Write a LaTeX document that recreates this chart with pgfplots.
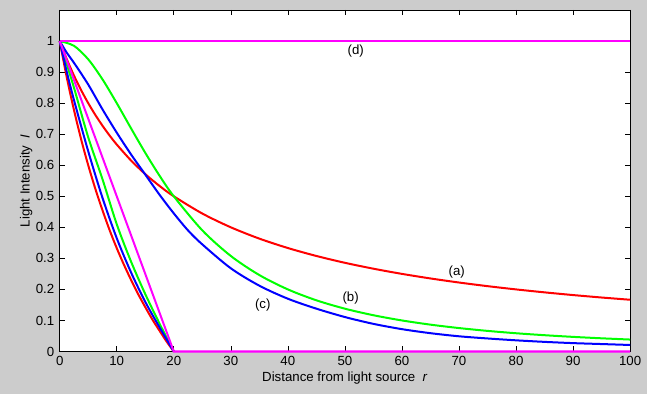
\documentclass[border=0pt]{standalone}
\usepackage{fontspec}
\setmainfont{Liberation Sans}
\usepackage{pgfplots}
\pgfplotsset{compat=1.18}
\definecolor{figgray}{RGB}{204,204,204}
\definecolor{mred}{RGB}{255,0,0}
\definecolor{mgreen}{RGB}{0,255,0}
\definecolor{mblue}{RGB}{0,0,255}
\definecolor{mmag}{RGB}{255,0,255}
\begin{document}
\begin{tikzpicture}[font=\fontsize{13.3}{16}\selectfont]
\fill[figgray] (0bp,0bp) rectangle (647bp,394bp);
\begin{axis}[
  at={(59.7bp,42.5bp)}, anchor=south west,
  scale only axis, width=570.4bp, height=341.5bp,
  xmin=0, xmax=100, ymin=0, ymax=1.1,
  axis background/.style={fill=white},
  axis line style={black, line width=0.8bp},
  xtick={0,10,20,30,40,50,60,70,80,90,100},
  ytick={0,0.1,0.2,0.3,0.4,0.5,0.6,0.7,0.8,0.9,1},
  yticklabels={0,0.1,0.2,0.3,0.4,0.5,0.6,0.7,0.8,0.9,1},
  tick align=inside, major tick length=5bp,
  tick style={black, line width=0.6bp},
  /pgf/number format/assume math mode=true,
  tick label style={font=\fontsize{13.3}{16}\selectfont, black},
  xticklabel style={yshift=-1.5bp},
  yticklabel style={xshift=-2bp},
  clip=false,
  xlabel={Distance from light source\ \ \textit{r}},
  ylabel={Light Intensity\ \ \textit{I}},
  xlabel style={at={(axis description cs:0.5,0)}, anchor=base, yshift=-30bp},
  ylabel style={at={(axis description cs:-0.0526,0.5)}, anchor=base, rotate=0},
  label style={font=\fontsize{13.3}{16}\selectfont},
  every axis plot/.append style={line width=2bp, smooth},
]
% (a) upper red
\addplot[mred] coordinates {(0,1) (1.25,0.9412) (2.5,0.8889) (3.75,0.8421) (5,0.8) (6.25,0.7619) (7.5,0.7273) (8.75,0.6957) (10,0.6667) (12.5,0.6154) (15,0.5714) (17.5,0.5333) (20,0.5) (25,0.4444) (30,0.4) (35,0.3636) (40,0.3333) (45,0.3077) (50,0.2857) (55,0.2667) (60,0.25) (65,0.2353) (70,0.2222) (75,0.2105) (80,0.2) (85,0.1905) (90,0.1818) (95,0.1739) (100,0.1667)};
% (b) upper green
\addplot[mgreen] coordinates {(0,1) (2.5,0.9846) (5,0.9412) (7.5,0.8767) (10,0.8) (12.5,0.7191) (15,0.64) (17.5,0.5664) (20,0.5) (25,0.3902) (30,0.3077) (35,0.2462) (40,0.2) (45,0.1649) (50,0.1379) (55,0.1168) (60,0.1) (65,0.0865) (70,0.0755) (75,0.0664) (80,0.0588) (85,0.0525) (90,0.0471) (95,0.0425) (100,0.0385)};
% (c) upper blue
\addplot[mblue] coordinates {(0,1) (1.25,0.962) (2.5,0.93) (5,0.86) (7.5,0.78) (10,0.705) (12.5,0.635) (15,0.57) (17.5,0.505) (20,0.445) (22.5,0.39) (25,0.345) (30,0.268) (35,0.212) (40,0.170) (45,0.138) (50,0.111) (55,0.089) (60,0.072) (65,0.059) (70,0.049) (75,0.042) (80,0.036) (85,0.031) (90,0.027) (95,0.024) (100,0.021)};
% (d) magenta
\addplot[mmag, sharp plot] coordinates {(0,1) (100,1)};
% lower group
\addplot[mred] coordinates {(0,1) (1.25,0.882) (2.5,0.778) (3.75,0.684) (5,0.6) (6.25,0.524) (7.5,0.455) (8.75,0.391) (10,0.333) (11.25,0.28) (12.5,0.231) (13.75,0.185) (15,0.143) (16.25,0.103) (17.5,0.067) (18.75,0.032) (20,0)};
\addplot[mgreen] coordinates {(0,1) (1.25,0.925) (2.5,0.85) (5,0.69) (7.5,0.555) (10,0.41) (12.5,0.29) (15,0.185) (17.5,0.09) (20,0)};
\addplot[mblue] coordinates {(0,1) (1.25,0.9) (2.5,0.81) (5,0.645) (7.5,0.495) (10,0.365) (12.5,0.255) (15,0.16) (17.5,0.078) (20,0)};
\addplot[mmag, sharp plot] coordinates {(0,1) (20,0) (100,0)};
\node at (axis cs:69.6,0.257) {(a)};
\node at (axis cs:51.0,0.171) {(b)};
\node at (axis cs:35.6,0.150) {(c)};
\node at (axis cs:51.9,0.9675) {(d)};
\end{axis}
\end{tikzpicture}
\end{document}
